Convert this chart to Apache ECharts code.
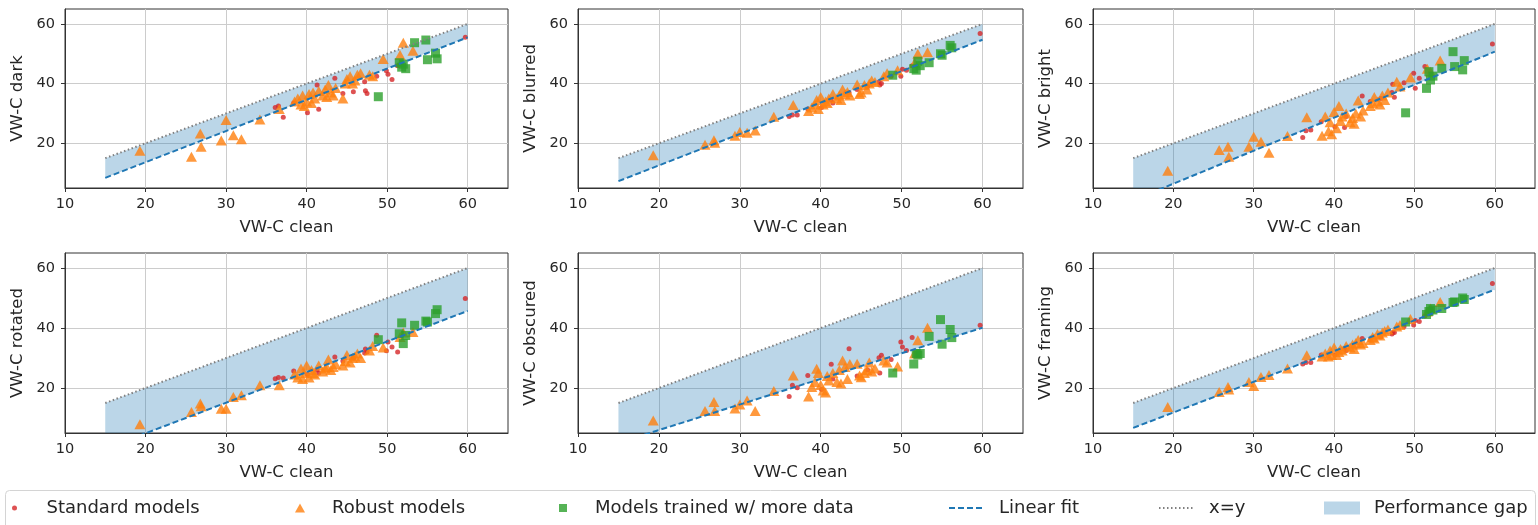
<!DOCTYPE html>
<html>
<head>
<meta charset="utf-8">
<style>
    html, body { margin: 0; padding: 0; background: #fff; }
    #chart { width: 1538px; height: 525px; }
</style>
</head>
<body>
<div id="chart"></div>
<script src="https://cdn.jsdelivr.net/npm/echarts@6/dist/echarts.min.js"></script>
<script>
    // axis ticks and titles
    var xTicks = [10, 20, 30, 40, 50, 60];
    var yTicks = [20, 40, 60];
    var xName = 'VW-C clean';
    var yNames = ['VW-C dark', 'VW-C blurred', 'VW-C bright', 'VW-C rotated', 'VW-C obscured', 'VW-C framing'];

    // clean accuracy of each model (shared by all panels)
    var xStandard = [36.1, 36.5, 37.1, 38.4, 40.1, 41.3, 41.5, 43.5, 44.5, 45.8, 47.2, 47.3, 47.5, 48.7, 49.9, 50.1, 50.6, 51.3, 59.7];
    var xRobust = [19.3, 25.7, 26.8, 26.9, 29.4, 30.0, 30.9, 31.9, 34.2, 36.6, 38.5, 38.9, 39.3, 39.5, 39.7, 40.0, 40.3, 40.6, 40.8, 41.0, 41.5,
        42.0, 42.3, 42.5, 42.7, 43.0, 43.3, 43.6, 44.5, 44.8, 45.0, 45.4, 45.7, 46.0, 46.3, 46.7, 47.8, 48.2, 49.5, 51.6, 52.0, 53.2];
    var xMoreData = [48.9, 51.5, 51.8, 52.0, 52.3, 53.4, 54.8, 55.0, 56.0, 56.2];

    // standard models
    var yStdDark = [32.0, 32.5, 28.7, 33.5, 30.2, 39.5, 31.4, 41.8, 36.7, 37.3, 40.6, 37.6, 36.7, 42.5, 44.3, 43.1, 41.4, 46.0, 55.5];
    var yStdBlurred = [29.0, 29.5, 29.5, 31.5, 32.0, 34.5, 33.5, 37.0, 38.0, 39.0, 40.5, 39.5, 40.0, 42.5, 42.5, 44.8, 44.5, 46.0, 56.8];
    var yStdBright = [21.9, 24.2, 24.4, 27.2, 25.5, 25.3, 29.0, 35.8, 34.0, 35.0, 37.0, 39.8, 35.4, 40.3, 43.5, 38.4, 41.8, 45.7, 53.3];
    var yStdRotated = [23.1, 23.5, 23.3, 25.7, 24.5, 26.0, 25.0, 30.3, 29.0, 30.0, 31.7, 33.0, 32.0, 37.6, 32.4, 35.3, 33.7, 32.0, 49.8];
    var yStdObscured = [17.2, 20.9, 20.1, 24.2, 19.5, 27.9, 23.0, 33.1, 24.0, 26.0, 30.1, 25.0, 30.9, 29.5, 35.3, 33.7, 32.5, 36.8, 40.9];
    var yStdFraming = [28.0, 28.5, 28.5, 31.0, 31.0, 33.0, 32.5, 36.5, 36.0, 37.0, 38.0, 38.5, 38.5, 40.5, 41.0, 42.5, 42.2, 44.0, 54.8];

    // robust models
    var yRobDark = [17.5, 15.5, 23.3, 18.8, 20.9, 27.8, 22.7, 21.3, 28.0, 31.5, 34.0, 35.0, 33.0, 36.0, 32.5, 34.0, 36.5, 33.5, 37.0, 35.0, 37.5,
        36.0, 38.0, 35.5, 39.5, 37.0, 36.0, 38.5, 35.0, 40.0, 41.5, 42.5, 40.0, 41.0, 43.0, 43.5, 43.0, 42.5, 48.2, 49.6, 53.7, 51.0];
    var yRobBlurred = [16.0, 19.5, 21.0, 20.2, 22.5, 23.8, 23.5, 24.3, 28.9, 32.8, 30.8, 32.0, 33.0, 34.5, 31.5, 35.5, 33.0, 34.0, 33.5, 35.0, 36.5,
        35.0, 36.0, 34.5, 38.0, 36.5, 37.2, 36.0, 39.7, 36.5, 37.0, 39.5, 38.0, 40.0, 41.0, 40.5, 42.5, 43.5, 44.5, 47.0, 50.0, 50.5];
    var yRobBright = [10.8, 17.7, 18.8, 15.5, 18.8, 22.2, 20.5, 16.8, 22.4, 28.7, 22.5, 29.0, 24.0, 27.0, 23.0, 30.5, 25.0, 32.5, 27.5, 29.0, 30.0,
        27.0, 28.5, 26.5, 30.0, 34.3, 29.0, 31.0, 32.5, 33.5, 35.5, 34.0, 33.0, 36.0, 34.5, 37.0, 40.6, 39.0, 42.0, 45.0, 44.0, 47.7];
    var yRobRotated = [7.9, 12.0, 14.8, 13.9, 13.1, 13.1, 17.0, 17.6, 20.9, 20.9, 24.5, 23.5, 26.5, 23.0, 25.0, 27.5, 23.5, 26.0, 25.0, 24.5, 27.5,
        25.5, 26.5, 27.0, 29.5, 26.0, 27.0, 28.0, 27.5, 29.0, 31.0, 28.5, 30.0, 30.5, 31.5, 30.0, 32.5, 34.0, 33.5, 37.0, 38.5, 38.7];
    var yRobObscured = [9.2, 12.3, 15.3, 12.3, 13.2, 14.5, 15.8, 12.3, 19.0, 24.2, 17.2, 20.3, 22.0, 26.4, 25.0, 21.0, 19.2, 18.5, 24.0, 22.5, 25.0,
        22.0, 26.0, 21.5, 29.2, 27.0, 23.0, 28.0, 28.1, 24.2, 23.6, 25.0, 26.0, 28.5, 25.5, 26.5, 29.2, 28.5, 27.2, 31.5, 35.9, 40.1];
    var yRobFraming = [13.7, 18.7, 20.3, 19.5, 22.0, 20.7, 23.7, 24.3, 26.5, 30.9, 30.5, 31.5, 30.5, 32.5, 31.0, 33.5, 31.0, 32.0, 33.0, 32.5, 34.0,
        33.5, 34.5, 33.0, 35.0, 36.0, 34.5, 35.0, 36.0, 37.0, 36.5, 38.0, 37.5, 38.5, 39.0, 39.5, 40.5, 41.0, 43.0, 45.5, 46.5, 48.7];

    // models trained w/ more data
    var yMoreDark = [35.6, 47.0, 45.5, 46.5, 45.0, 53.7, 54.6, 48.0, 50.2, 48.3];
    var yMoreBlurred = [42.8, 45.0, 44.5, 47.5, 46.0, 47.0, 50.0, 49.5, 52.8, 52.0];
    var yMoreBright = [30.2, 38.4, 44.0, 41.2, 42.5, 45.1, 50.7, 45.7, 44.6, 47.7];
    var yMoreRotated = [36.1, 38.1, 41.7, 34.8, 37.5, 40.9, 42.3, 42.0, 44.8, 46.1];
    var yMoreObscured = [25.0, 28.0, 31.5, 31.0, 31.5, 37.2, 42.8, 34.6, 39.5, 36.8];
    var yMoreFraming = [42.0, 44.5, 45.5, 46.5, 46.0, 46.5, 48.5, 48.7, 50.0, 49.5];

    // linear fit: value at x=15 and x=60 for each panel
    var fitX = [15, 60];
    var fitStart = [8.4, 7.3, 0.9, -0.2, 1.7, 6.7];
    var fitEnd = [55.5, 54.7, 50.7, 45.7, 40.1, 52.8];

    var yStd = [yStdDark, yStdBlurred, yStdBright, yStdRotated, yStdObscured, yStdFraming];
    var yRob = [yRobDark, yRobBlurred, yRobBright, yRobRotated, yRobObscured, yRobFraming];
    var yMore = [yMoreDark, yMoreBlurred, yMoreBright, yMoreRotated, yMoreObscured, yMoreFraming];

    var font = 'DejaVu Sans';
    var textColor = '#262626';
    var bandColor = 'rgba(31,119,180,0.3)';
    var yMin = 5, yMax = 65;

    var grids = [
        {left: 65, top: 9, width: 443, height: 179},
        {left: 578, top: 9, width: 445, height: 179},
        {left: 1093, top: 9, width: 442, height: 179},
        {left: 65, top: 253, width: 443, height: 180},
        {left: 578, top: 253, width: 445, height: 180},
        {left: 1093, top: 253, width: 442, height: 180}
    ];

    function zip(xs, ys) {
        return xs.map(function (x, i) { return [x, ys[i]]; });
    }

    /*性能差距区域：x=y 与拟合线之间，按 y 轴下限截断*/
    function bandRender(p) {
        return function (params, api) {
            var a = fitStart[p], b = fitEnd[p];
            var slope = (b - a) / (fitX[1] - fitX[0]);
            var pts = [[fitX[0], fitX[0]], [fitX[1], fitX[1]], [fitX[1], b]];
            if (a < yMin) {
                pts.push([fitX[0] + (yMin - a) / slope, yMin]);
                pts.push([fitX[0], yMin]);
            } else {
                pts.push([fitX[0], a]);
            }
            return {
                type: 'polygon',
                shape: {points: pts.map(function (q) { return api.coord(q); })},
                style: {fill: bandColor}
            };
        };
    }

    var xAxes = [], yAxes = [], series = [];
    grids.forEach(function (g, i) {
        g.show = true;
        g.borderColor = '#333';
        g.borderWidth = 1;
        xAxes.push({
            gridIndex: i, type: 'value', min: 10, max: 65,
            name: xName, nameLocation: 'middle', nameGap: 31,
            nameTextStyle: {fontFamily: font, fontSize: 16.5, color: textColor},
            axisLine: {show: true, lineStyle: {color: '#333'}},
            axisTick: {show: true, length: 4, customValues: xTicks, lineStyle: {color: '#333'}},
            axisLabel: {customValues: xTicks, fontFamily: font, fontSize: 14.5, color: textColor, margin: 9},
            splitLine: {show: true, lineStyle: {color: '#cccccc', width: 1}}
        });
        yAxes.push({
            gridIndex: i, type: 'value', min: yMin, max: yMax,
            name: yNames[i], nameLocation: 'middle', nameGap: 39, nameRotate: 90,
            nameTextStyle: {fontFamily: font, fontSize: 16.5, color: textColor},
            axisLine: {show: true, lineStyle: {color: '#333'}},
            axisTick: {show: true, length: 4, customValues: yTicks, lineStyle: {color: '#333'}},
            axisLabel: {customValues: yTicks, fontFamily: font, fontSize: 14.5, color: textColor, margin: 10},
            splitLine: {show: true, lineStyle: {color: '#cccccc', width: 1}}
        });
        series.push({
            name: 'Performance gap', type: 'custom', xAxisIndex: i, yAxisIndex: i,
            renderItem: bandRender(i), data: [[fitX[0], fitX[0]]],
            itemStyle: {color: bandColor}, silent: true, z: 1
        });
        series.push({
            name: 'Standard models', type: 'scatter', xAxisIndex: i, yAxisIndex: i,
            data: zip(xStandard, yStd[i]), symbol: 'circle', symbolSize: 5,
            itemStyle: {color: '#d62728'}, z: 2
        });
        series.push({
            name: 'Robust models', type: 'scatter', xAxisIndex: i, yAxisIndex: i,
            data: zip(xRobust, yRob[i]), symbol: 'triangle', symbolSize: [11, 10],
            itemStyle: {color: '#ff7f0e'}, z: 2
        });
        series.push({
            name: 'Models trained w/ more data', type: 'scatter', xAxisIndex: i, yAxisIndex: i,
            data: zip(xMoreData, yMore[i]), symbol: 'rect', symbolSize: 9,
            itemStyle: {color: '#2ca02c'}, z: 2
        });
        series.push({
            name: 'Linear fit', type: 'line', xAxisIndex: i, yAxisIndex: i,
            data: zip(fitX, [fitStart[i], fitEnd[i]]), symbol: 'none',
            lineStyle: {color: '#1f77b4', width: 2, type: [6, 3]}, itemStyle: {color: '#1f77b4'}, z: 3
        });
        series.push({
            name: 'x=y', type: 'line', xAxisIndex: i, yAxisIndex: i,
            data: zip(fitX, fitX), symbol: 'none',
            lineStyle: {color: '#808080', width: 2, type: [1.5, 2.5]}, itemStyle: {color: '#808080'}, z: 3
        });
    });

    var legendItems = [
        {name: 'Standard models', left: 12, icon: 'circle', h: 5},
        {name: 'Robust models', left: 295, icon: 'path://M5,0L10,9L0,9Z', h: 9},
        {name: 'Models trained w/ more data', left: 559, icon: 'path://M0,0L8,0L8,8L0,8Z', h: 8},
        {name: 'Linear fit', left: 948, icon: null, h: 12, hideSymbol: true},
        {name: 'x=y', left: 1158, icon: null, h: 12, hideSymbol: true},
        {name: 'Performance gap', left: 1324, icon: 'rect', h: 13, color: bandColor}
    ];
    var legends = legendItems.map(function (it) {
        var d = {name: it.name};
        if (it.icon) d.icon = it.icon;
        if (it.color) d.itemStyle = {color: it.color};
        if (it.hideSymbol) d.itemStyle = {opacity: 0};
        return {
            left: it.left, top: 499, padding: 0,
            itemWidth: 36, itemHeight: it.h, selectedMode: false,
            formatter: '{pad|}{t|{name}}',
            textStyle: {
                fontFamily: font, fontSize: 18, color: textColor,
                rich: {
                    pad: {width: 9},
                    t: {fontFamily: font, fontSize: 18, color: textColor}
                }
            },
            data: [d]
        };
    });

    var chart = echarts.init(document.getElementById('chart'));
    chart.setOption({
        backgroundColor: '#fff',
        animation: false,
        graphic: [{
            type: 'rect', left: 5, top: 490, z: 0,
            shape: {width: 1530, height: 40, r: 4},
            style: {fill: '#fff', stroke: '#d4d4d4', lineWidth: 1}
        }],
        grid: grids,
        xAxis: xAxes,
        yAxis: yAxes,
        legend: legends,
        series: series
    });
</script>
</body>
</html>
